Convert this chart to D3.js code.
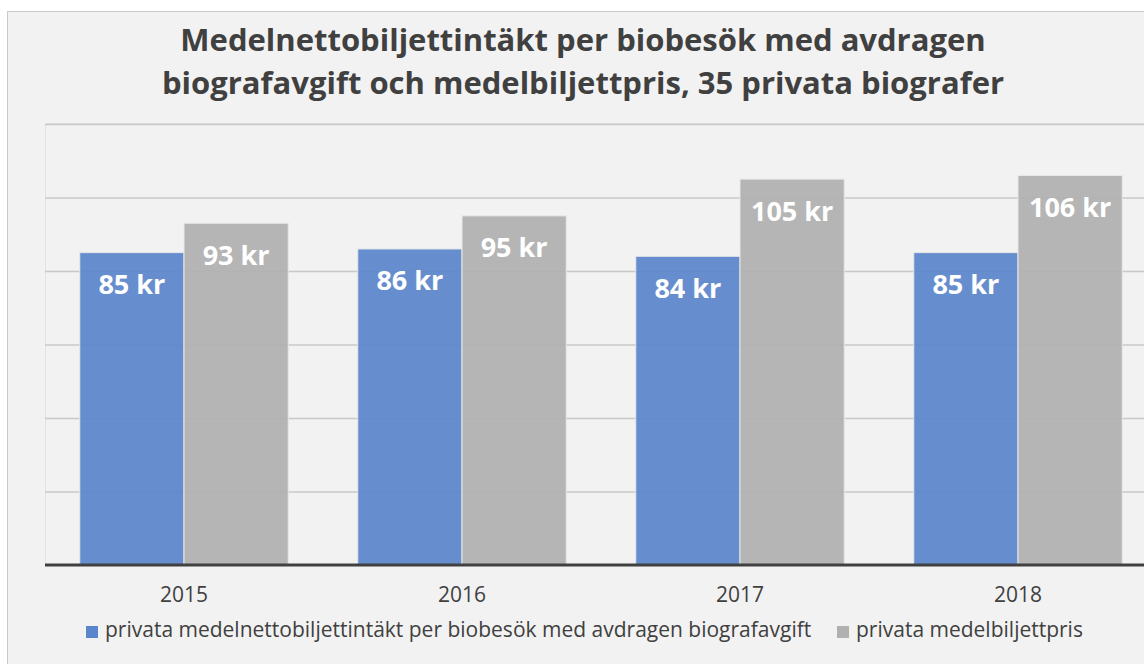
<!DOCTYPE html>
<html>
<head>
<meta charset="utf-8">
<script src="https://cdn.jsdelivr.net/npm/d3@7"></script>
<style>
  body { margin: 0; background: #fff; }
  svg { display: block; font-family: "Open Sans", sans-serif; }
</style>
</head>
<body>
<div id="chart"></div>
<script>
// chart data
var years = ["2015", "2016", "2017", "2018"];
var netto = [85, 86, 84, 85];
var biljettpris = [93, 95, 105, 106];
var seriesNames = [
  "privata medelnettobiljettintäkt per biobesök med avdragen biografavgift",
  "privata medelbiljettpris"
];
var yTicks = [0, 20, 40, 60, 80, 100, 120];
var titleLines = [
  "Medelnettobiljettintäkt per biobesök med avdragen",
  "biografavgift och medelbiljettpris, 35 privata biografer"
];

var W = 1144, H = 664;
var colors = ["#5b86cb", "#b0b0b0"];

var svg = d3.select("#chart").append("svg")
    .attr("width", W)
    .attr("height", H);

// outer chart frame
svg.append("rect")
    .attr("x", 7.5).attr("y", 11.5)
    .attr("width", W + 20).attr("height", H)
    .attr("fill", "#f2f2f2")
    .attr("stroke", "#c9c9c9");

// plot area
var plot = {left: 45, top: 124, bottom: 565};
var x = d3.scaleBand().domain(years).range([plot.left, plot.left + 4 * 278]).paddingInner(0.25).paddingOuter(0.125);
var x1 = d3.scaleBand().domain([0, 1]).range([0, x.bandwidth()]);
var y = d3.scaleLinear().domain([0, 120]).range([plot.bottom, plot.top]);

svg.append("rect")
    .attr("x", plot.left + 0.5).attr("y", plot.top - 0.5)
    .attr("width", W).attr("height", plot.bottom - plot.top)
    .attr("fill", "none")
    .attr("stroke", "#dfe4ea");

// gridlines
svg.append("g")
    .attr("transform", "translate(" + plot.left + ",0)")
    .call(d3.axisLeft(y).tickValues(yTicks.slice(1)).tickSize(-W).tickFormat(""))
    .call(function(g) { g.select(".domain").remove(); })
    .selectAll("line")
    .attr("stroke", "#c8c8c8")
    .attr("stroke-width", 1.5);

// bars
var groups = svg.selectAll("g.year")
    .data(years)
    .enter().append("g")
    .attr("class", "year")
    .attr("transform", function(d) { return "translate(" + x(d) + ",0)"; });

groups.selectAll("rect")
    .data(function(d, i) { return [netto[i], biljettpris[i]]; })
    .enter().append("rect")
    .attr("x", function(d, j) { return x1(j); })
    .attr("y", function(d) { return y(d); })
    .attr("width", x1.bandwidth())
    .attr("height", function(d) { return y(0) - y(d); })
    .attr("fill", function(d, j) { return colors[j]; })
    .attr("fill-opacity", 0.93)
    .attr("stroke", "#e8e8e8")
    .attr("stroke-width", 1);

groups.selectAll("text.lbl")
    .data(function(d, i) { return [netto[i], biljettpris[i]]; })
    .enter().append("text")
    .attr("class", "lbl")
    .attr("x", function(d, j) { return x1(j) + x1.bandwidth() / 2; })
    .attr("y", function(d) { return y(d) + 32; })
    .attr("dy", "0.35em")
    .attr("text-anchor", "middle")
    .attr("fill", "#fff")
    .style("font-size", "27px")
    .style("font-weight", "bold")
    .text(function(d) { return d + " kr"; });

// baseline + x axis labels
var xAxis = svg.append("g")
    .attr("transform", "translate(0," + plot.bottom + ")")
    .call(d3.axisBottom(x).tickSize(0).tickPadding(22));
xAxis.select(".domain").remove();
xAxis.append("line")
    .attr("x1", plot.left).attr("x2", W)
    .attr("stroke", "#404040")
    .attr("stroke-width", 3);
xAxis.selectAll("text")
    .attr("fill", "#404040")
    .style("font-size", "21px")
    .style("font-family", "'Open Sans', sans-serif");

// title
svg.append("text")
    .attr("x", 583)
    .attr("text-anchor", "middle")
    .attr("fill", "#404040")
    .style("font-size", "31px")
    .style("font-weight", "bold")
    .selectAll("tspan")
    .data(titleLines)
    .enter().append("tspan")
    .attr("x", 583)
    .attr("y", function(d, i) { return 51 + i * 43; })
    .text(function(d) { return d; });

// legend
var legendX = [86, 837];
var legend = svg.selectAll("g.legend")
    .data(seriesNames)
    .enter().append("g")
    .attr("class", "legend")
    .attr("transform", function(d, i) { return "translate(" + legendX[i] + ",632)"; });
legend.append("rect")
    .attr("x", 0).attr("y", -6)
    .attr("width", 12).attr("height", 12)
    .attr("fill", function(d, i) { return colors[i]; });
legend.append("text")
    .attr("x", 19)
    .attr("dy", "0.25em")
    .attr("fill", "#404040")
    .style("font-size", "21px")
    .text(function(d) { return d; });
</script>
</body>
</html>
